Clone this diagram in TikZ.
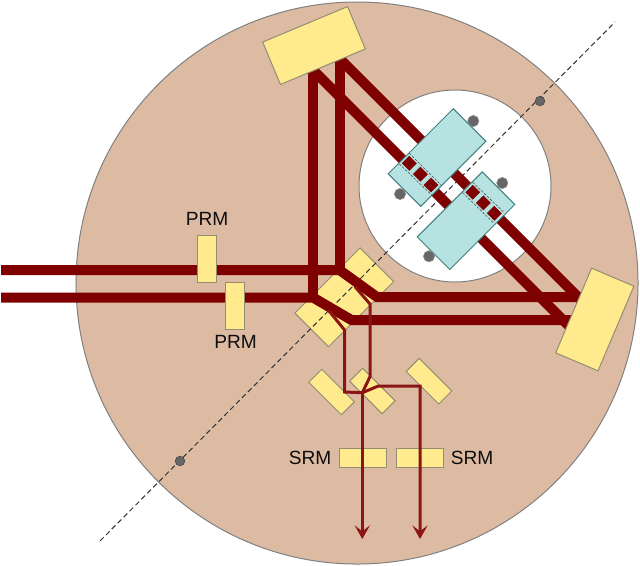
\documentclass[tikz,border=0pt]{standalone}
\usepackage{fontspec}
\setmainfont{Liberation Sans}
\usepackage{tikz}
\usetikzlibrary{arrows.meta,positioning}
\definecolor{tablecol}{HTML}{DDBBA3}
\definecolor{platecol}{HTML}{FFEB8E}
\definecolor{massescol}{HTML}{B7E2E2}
\definecolor{beamcol}{HTML}{7F0000}
\definecolor{signalcol}{HTML}{8B1414}
\tikzset
{
  plate/.style    = {rectangle, draw=black!65!olive!60, fill=platecol, line width=0.25mm, inner sep=0pt, outer sep=0pt},
  mirror/.style   = {plate, minimum width=23mm, minimum height=11.5mm},
  folding/.style  = {plate, minimum width=11.5mm, minimum height=4.6mm, rotate=-45},
  recycler/.style = {plate, minimum width=4.75mm, minimum height=11.75mm},
  signalrm/.style = {plate, minimum width=11.75mm, minimum height=4.75mm},
  testmass/.style = {rectangle, draw=teal!50!gray, fill=massescol, line width=0.25mm, minimum width=23mm, minimum height=11.5mm, rotate=45},
  cavity/.style   = {rectangle, draw=massescol, fill=beamcol, line width=0.2mm, minimum size=2.9mm, inner sep=0pt, rotate=-45},
  suspension/.style = {circle, fill=black!60, draw=black!45, minimum size=2.8mm, inner sep=0pt},
  marker/.style   = {circle, fill=black!60, draw=black!75, minimum size=2.4mm, inner sep=0pt},
  beam/.style     = {draw=beamcol, line width=2.5mm},
  signal/.style   = {draw=signalcol, line width=0.75mm},
  coating/.style  = {draw=black!70, line width=0.15mm, dash pattern=on 0.6mm off 0.4mm},
  label/.style    = {font=\fontsize{13.6}{16}\selectfont, text=black!95}
}
\begin{document}
\begin{tikzpicture}[x=0.25mm,y=-0.25mm,>={Stealth[length=3.4mm,width=3.8mm,inset=1.5mm]}]
  \useasboundingbox (0,0) rectangle (640,565);
  % vacuum table
  \draw[black!50, fill=tablecol, line width=0.25mm] (357,283) circle [radius=70.25mm];
  \draw[black!50, fill=white, line width=0.25mm] (455,186) circle [radius=24mm];
  \node[mirror, rotate=45, minimum height=11.9mm] (bs) at (344.3,297.3) {};
  \coordinate (axisa) at (100,541);
  \coordinate (axisb) at (615,22);
  \draw[black!80, line width=0.25mm, dash pattern=on 1.3mm off 0.8mm] (axisa) -- (axisb);
  % main beams
  \coordinate (ina) at (1,270);
  \coordinate (inb) at (1,297.5);
  \coordinate (bsa) at (339.5,270);
  \coordinate (bsb) at (313,297.5);
  \coordinate (bsc) at (377,297);
  \coordinate (bsd) at (351.5,320);
  \coordinate (topa) at (339.5,50);
  \coordinate (topb) at (313,62);
  \coordinate (topc) at (320,39);
  \coordinate (topd) at (300,57);
  \coordinate (rightc) at (590,309);
  \coordinate (rightd) at (576,333);
  \coordinate (righta) at (590,297);
  \coordinate (rightb) at (578,320);
  \draw[beam] (ina) -- (bsa) -- (bsc) -- (righta);
  \draw[beam] (inb) -- (bsb) -- (bsd) -- (rightb);
  \draw[beam] (bsa) -- (topa);
  \draw[beam] (bsb) -- (topb);
  \draw[beam] (topc) -- (rightc);
  \draw[beam] (topd) -- (rightd);
  % optics
  \node[mirror, rotate=22.7] (topmirror) at (314,45.5) {};
  \node[mirror, rotate=67] (rightmirror) at (594.8,319.5) {};
  \node[recycler] (prma) at (207,259.2) {};
  \node[recycler] (prmb) at (235.2,306.2) {};
  \node[label] (prmatext) at (207,219) {PRM};
  \node[label] (prmbtext) at (235.5,342) {PRM};
  \node[folding] (foldl) at (331.5,392) {};
  \node[folding] (foldc) at (372.4,391) {};
  \node[folding] (foldr) at (429,381.2) {};
  \node[signalrm] (srma) at (363.3,458.3) {};
  \node[signalrm] (srmb) at (420.3,458.3) {};
  \node[label] (srmatext) at (310,458) {SRM};
  \node[label] (srmbtext) at (472,458) {SRM};
  % test masses
  \node[testmass] (itm) at (437,157.5) {};
  \node[testmass] (etm) at (466,220.7) {};
  \foreach \i/\x/\y in {a/409.3/163.3,b/420.4/174.2,c/431/185,d/472.7/192.3,e/483.4/202.8,f/494.3/213.3}
    \node[cavity] (sq\i) at (\x,\y) {};
  \draw[coating] (399.3,164) -- (431.7,195);
  \draw[coating] (409.3,153.3) -- (441.7,185.7);
  \draw[coating] (462.7,192.7) -- (493.3,222.7);
  \draw[coating] (472.7,182.3) -- (503.3,211.7);
  \foreach \i/\x/\y in {a/473.3/121,b/400/194,c/502.3/183,d/429/256.3}
    \node[suspension] (dot\i) at (\x,\y) {};
  \node[marker] (marka) at (180,461) {};
  \node[marker] (markb) at (540,101) {};
  % signal beams
  \coordinate (sigjoin) at (362.3,392.7);
  \coordinate (outa) at (362.3,539);
  \coordinate (outb) at (420,539);
  \draw[signal] (328.3,310) -- (344.5,330) -- (344.5,392) -- (sigjoin);
  \draw[signal] (355,286.7) -- (370,304) -- (370,376.7) -- (sigjoin);
  \draw[signal,->] (sigjoin) -- (outa);
  \draw[signal,->] (sigjoin) -- (378.3,386) -- (420,386) -- (outb);
\end{tikzpicture}
\end{document}
